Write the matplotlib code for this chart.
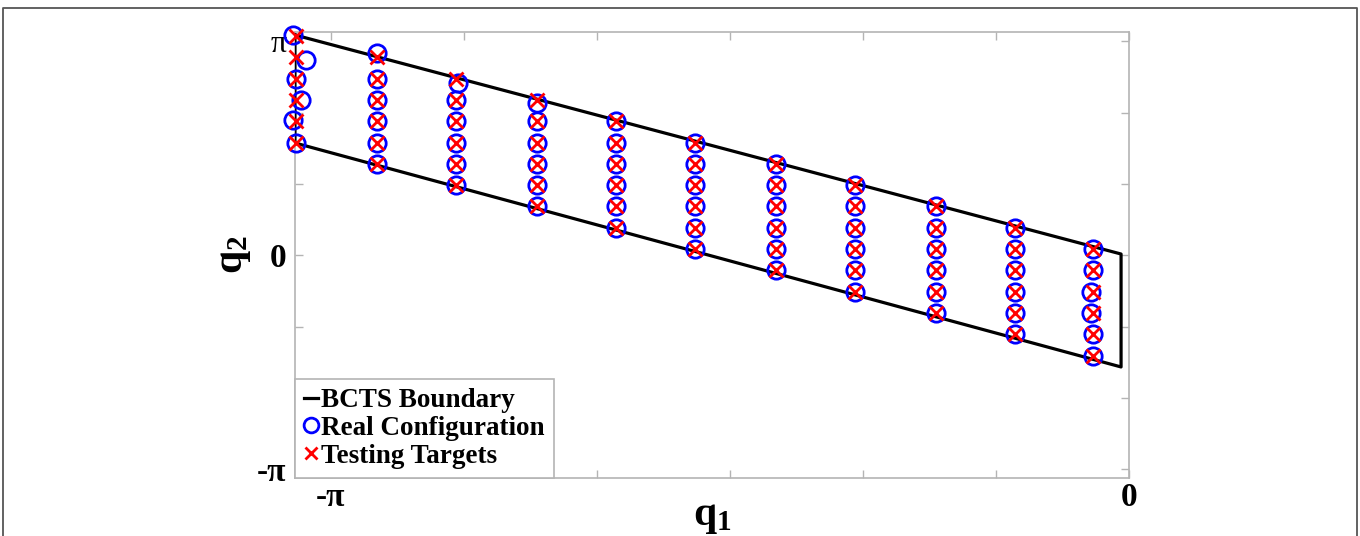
import numpy as np
import matplotlib
matplotlib.use('Agg')
import matplotlib.pyplot as plt
from matplotlib.lines import Line2D

plt.rcParams['font.family'] = ['Liberation Serif', 'DejaVu Serif']
plt.rcParams['mathtext.fontset'] = 'custom'
plt.rcParams['mathtext.rm'] = 'Liberation Serif'
plt.rcParams['mathtext.bf'] = 'Liberation Serif:bold'

# boundary of the task space (closed polygon)
bound_q1 = [-3.283, -0.031, -0.031, -3.283, -3.283]
bound_q2 = [3.236, 0.019, -1.64, 1.65, 3.236]

# grid columns of testing targets
col_q1 = [-3.28, -2.96, -2.65, -2.33, -2.02, -1.71, -1.39, -1.08, -0.76, -0.45, -0.14]
target_q2 = [
    [3.22, 2.91, 2.59, 2.28, 1.97, 1.65],
    [2.91, 2.59, 2.28, 1.97, 1.65, 1.34],
    [2.59, 2.28, 1.97, 1.65, 1.34, 1.03],
    [2.28, 1.97, 1.65, 1.34, 1.03, 0.72],
    [1.97, 1.65, 1.34, 1.03, 0.72, 0.40],
    [1.65, 1.34, 1.03, 0.72, 0.40, 0.09],
    [1.34, 1.03, 0.72, 0.40, 0.09, -0.22],
    [1.03, 0.72, 0.40, 0.09, -0.22, -0.54],
    [0.72, 0.40, 0.09, -0.22, -0.54, -0.85],
    [0.40, 0.09, -0.22, -0.54, -0.85, -1.16],
    [0.09, -0.22, -0.54, -0.85, -1.16, -1.48],
]

# configurations actually reached
real_q1 = [
    [-3.29, -3.24, -3.28, -3.26, -3.29, -3.28],
    [-2.96, -2.96, -2.96, -2.96, -2.96, -2.96],
    [-2.64, -2.65, -2.65, -2.65, -2.65, -2.65],
    [-2.33, -2.33, -2.33, -2.33, -2.33, -2.33],
    [-2.02, -2.02, -2.02, -2.02, -2.02, -2.02],
    [-1.71, -1.71, -1.71, -1.71, -1.71, -1.71],
    [-1.39, -1.39, -1.39, -1.39, -1.39, -1.39],
    [-1.08, -1.08, -1.08, -1.08, -1.08, -1.08],
    [-0.76, -0.76, -0.76, -0.76, -0.76, -0.76],
    [-0.45, -0.45, -0.45, -0.45, -0.45, -0.45],
    [-0.14, -0.14, -0.15, -0.15, -0.14, -0.14],
]
real_q2 = [
    [3.24, 2.87, 2.59, 2.28, 1.99, 1.65],
    [2.97, 2.59, 2.28, 1.97, 1.65, 1.34],
    [2.53, 2.28, 1.97, 1.65, 1.34, 1.03],
    [2.24, 1.97, 1.65, 1.34, 1.03, 0.72],
    [1.97, 1.65, 1.34, 1.03, 0.72, 0.40],
    [1.65, 1.34, 1.03, 0.72, 0.40, 0.09],
    [1.34, 1.03, 0.72, 0.40, 0.09, -0.22],
    [1.03, 0.72, 0.40, 0.09, -0.22, -0.54],
    [0.72, 0.40, 0.09, -0.22, -0.54, -0.85],
    [0.40, 0.09, -0.22, -0.54, -0.85, -1.16],
    [0.09, -0.22, -0.54, -0.85, -1.16, -1.48],
]

tq1 = np.repeat(col_q1, 6)
tq2 = np.array(target_q2).ravel()
rq1 = np.array(real_q1).ravel()
rq2 = np.array(real_q2).ravel()

fig = plt.figure(figsize=(13.6, 5.36), dpi=100)
ax = fig.add_axes([0.2169, 0.1082, 0.6132, 0.8321])

ax.plot(bound_q1, bound_q2, color='black', lw=2.3, label='BCTS Boundary', zorder=3)
ax.plot(rq1, rq2, 'o', mfc='none', mec='#0000ff', ms=12.5, mew=2.0,
        label='Real Configuration', clip_on=False, zorder=4)
ax.plot(tq1, tq2, 'x', color='#ff0000', ms=9.5, mew=2.0,
        label='Testing Targets', clip_on=False, zorder=5)

ax.set_xlim(-3.283, 0)
ax.set_ylim(-3.271, 3.280)

xt = np.arange(-np.pi, 0.001, np.pi / 6)
ax.set_xticks(xt)
ax.set_xticklabels(['-\u03c0'] + [''] * (len(xt) - 2) + ['0'], fontsize=24, fontweight='bold')
yt = np.linspace(-np.pi, np.pi, 7)
ax.set_yticks(yt)
ax.set_yticklabels(['-\u03c0', '', '', '0', '', '', '\u03c0'], fontsize=24, fontweight='bold')
top_lbl = ax.get_yticklabels()[-1]
top_lbl.set_fontweight('normal')
top_lbl.set_fontsize(23)
top_lbl.set_verticalalignment('center_baseline')

gray = '#b4b4b4'
for s in ax.spines.values():
    s.set_color(gray)
    s.set_linewidth(1.2)
ax.tick_params(direction='in', length=6, width=1, color=gray,
               top=True, right=True, labelcolor='black')
ax.tick_params(axis='x', pad=3)
ax.tick_params(axis='y', pad=6)

ax.set_xlabel(r'$\mathbf{q_1}$', fontsize=30, labelpad=-11)
ax.set_ylabel(r'$\mathbf{q_2}$', fontsize=30, labelpad=3)

leg = ax.legend(loc='lower left', bbox_to_anchor=(0, 0), borderaxespad=0,
                prop={'weight': 'bold', 'size': 19.5}, handlelength=0.5,
                handletextpad=0.12, labelspacing=0.1, borderpad=0.35,
                fancybox=False, framealpha=1, edgecolor=gray,
                markerscale=0.85)
leg.get_frame().set_linewidth(1.2)
leg.set_zorder(10)

# outer frame around the figure
fig.add_artist(Line2D([0.0022, 0.0022, 0.9978, 0.9978], [-0.05, 0.985, 0.985, -0.05],
                      color='#555555', lw=1.3, transform=fig.transFigure))

fig.savefig('out.png', dpi=100)
